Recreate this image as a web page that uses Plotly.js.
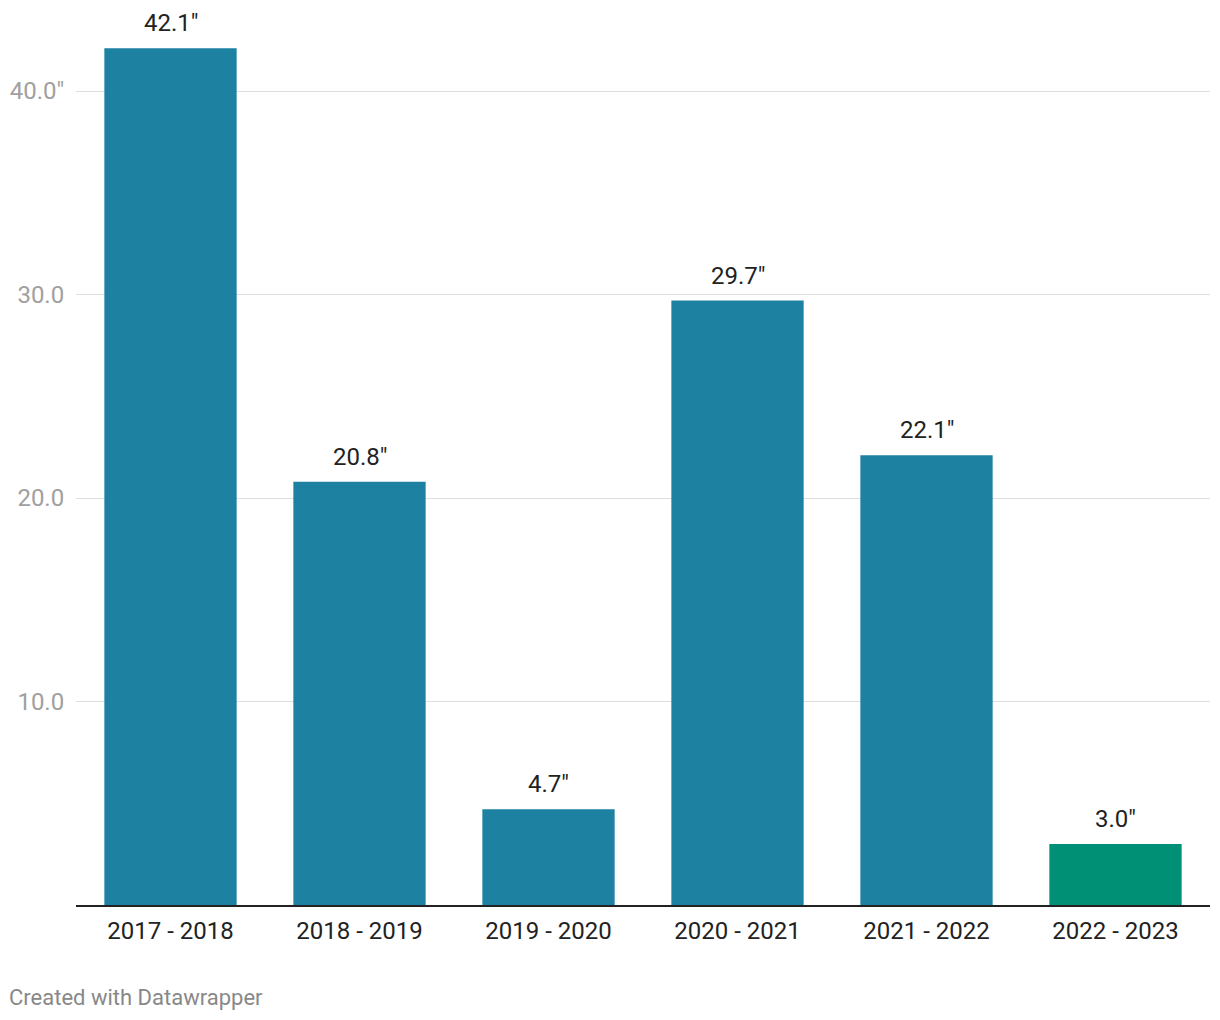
<!DOCTYPE html>
<html>
<head>
<meta charset="utf-8">
<script src="https://cdn.plot.ly/plotly-3.0.1.min.js"></script>
<style>html,body{margin:0;padding:0;background:#fff;}#chart{width:1220px;height:1020px;}</style>
</head>
<body>
<div id="chart"></div>
<script>
const seasons = ["2017 - 2018", "2018 - 2019", "2019 - 2020", "2020 - 2021", "2021 - 2022", "2022 - 2023"];
const snowfall = [42.1, 20.8, 4.7, 29.7, 22.1, 3.0];
const barLabels = ["42.1\"", "20.8\"", "4.7\"", "29.7\"", "22.1\"", "3.0\""];
const yTickVals = [10, 20, 30, 40];
const yTickText = ["10.0", "20.0", "30.0", "40.0\""];

const colors = snowfall.map((v, i) => i === snowfall.length - 1 ? "#009076" : "#1d81a2");

const trace = {
  type: "bar",
  x: seasons,
  y: snowfall,
  marker: {color: colors},
  hoverinfo: "x+y"
};

const annotations = seasons.map((s, i) => ({
  x: s, y: snowfall[i], xref: "x", yref: "y",
  text: barLabels[i], showarrow: false,
  yanchor: "bottom", yshift: 9,
  font: {family: "Roboto", size: 24, color: "#222"}
}));
annotations.push({
  xref: "paper", yref: "paper", x: -0.0605, y: -0.104,
  xanchor: "left", yanchor: "middle",
  text: "Created with Datawrapper", showarrow: false,
  font: {family: "Roboto", size: 22, color: "#888"}
});

const layout = {
  width: 1220, height: 1020,
  margin: {l: 76, r: 10, t: 20, b: 115},
  paper_bgcolor: "#fff", plot_bgcolor: "#fff",
  bargap: 0.3,
  showlegend: false,
  font: {family: "Roboto"},
  xaxis: {
    type: "category",
    showline: true, linecolor: "#222", linewidth: 2,
    showgrid: false, zeroline: false,
    ticks: "outside", ticklen: 3, tickcolor: "rgba(0,0,0,0)",
    tickfont: {family: "Roboto", size: 24, color: "#222"}
  },
  yaxis: {
    range: [0, 43.49],
    tickvals: yTickVals, ticktext: yTickText,
    showgrid: true, gridcolor: "#dedede", gridwidth: 1,
    zeroline: false, showline: false,
    ticks: "outside", ticklen: 6, tickcolor: "rgba(0,0,0,0)",
    tickfont: {family: "Roboto", size: 24, color: "#a0a0a0"}
  },
  annotations: annotations
};

Plotly.newPlot("chart", [trace], layout, {displayModeBar: false, staticPlot: true});
</script>
</body>
</html>
